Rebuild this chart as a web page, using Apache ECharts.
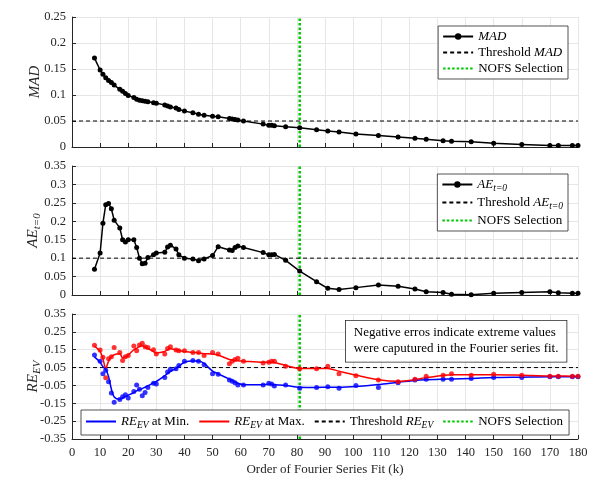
<!DOCTYPE html>
<html>
<head>
<meta charset="utf-8">
<script src="https://cdn.jsdelivr.net/npm/echarts@6/dist/echarts.min.js"></script>
<style>
  html, body { margin: 0; padding: 0; background: #fff; }
  #chart { width: 592px; height: 477px; }
</style>
</head>
<body>
<div id="chart"></div>
<script>
// fit orders (k)
const kValues = [8, 10, 11, 12, 13, 14, 15, 17, 18, 19, 20, 22, 23, 24, 25, 26, 27, 29, 30, 33,
  34, 35, 37, 38, 40, 43, 45, 47, 50, 52, 56, 57, 58, 59, 61, 68, 70, 71, 72, 76,
  81, 87, 91, 95, 101, 109, 116, 122, 126, 132, 135, 142, 150, 160, 170, 173, 178, 180]

const madValues = [0.171, 0.148, 0.140, 0.133, 0.128, 0.124, 0.119, 0.111, 0.107, 0.103, 0.099, 0.095, 0.092, 0.090, 0.089, 0.088, 0.087, 0.085, 0.084, 0.081,
  0.079, 0.077, 0.075, 0.072, 0.069, 0.066, 0.063, 0.061, 0.059, 0.058, 0.055, 0.054, 0.053, 0.052, 0.050, 0.044, 0.042, 0.042, 0.041, 0.039,
  0.037, 0.033, 0.031, 0.029, 0.025, 0.022, 0.019, 0.017, 0.015, 0.012, 0.011, 0.010, 0.007, 0.005, 0.003, 0.003, 0.003, 0.003]

const aeValues = [0.070, 0.114, 0.195, 0.245, 0.248, 0.234, 0.203, 0.182, 0.150, 0.144, 0.150, 0.150, 0.129, 0.100, 0.085, 0.086, 0.102, 0.109, 0.114, 0.116,
  0.130, 0.135, 0.125, 0.109, 0.100, 0.098, 0.093, 0.098, 0.107, 0.131, 0.122, 0.121, 0.129, 0.133, 0.129, 0.115, 0.109, 0.109, 0.110, 0.094,
  0.065, 0.036, 0.018, 0.015, 0.020, 0.027, 0.024, 0.016, 0.009, 0.007, 0.002, 0.001, 0.005, 0.007, 0.009, 0.006, 0.005, 0.005]

// RE_EV raw points
const reMinPoints = [0.120, 0.086, 0.016, 0.035, -0.029, -0.093, -0.144, -0.129, -0.114, -0.102, -0.120, -0.084, -0.047, -0.071, -0.108, -0.090, -0.062, -0.038, -0.042, -0.005,
  0.025, 0.040, 0.044, 0.062, 0.086, 0.089, 0.086, 0.066, 0.016, 0.013, -0.020, -0.026, -0.035, -0.047, -0.047, -0.047, -0.038, -0.042, -0.053, -0.047,
  -0.066, -0.062, -0.057, -0.066, -0.051, -0.062, -0.035, -0.020, -0.016, -0.016, -0.016, -0.011, -0.005, -0.005, -0.002, -0.002, -0.002, -0.002]

const reMaxPoints = [0.175, 0.149, 0.108, -0.007, 0.100, 0.110, 0.162, 0.135, 0.089, 0.111, 0.117, 0.171, 0.144, 0.177, 0.186, 0.166, 0.162, 0.150, 0.126, 0.126,
  0.157, 0.166, 0.149, 0.144, 0.144, 0.135, 0.135, 0.117, 0.135, 0.126, 0.071, 0.086, 0.095, 0.102, 0.086, 0.075, 0.080, 0.086, 0.086, 0.057,
  0.044, 0.044, 0.057, 0.016, 0.004, -0.020, -0.029, -0.016, 0.002, 0.007, 0.016, 0.007, 0.013, 0.007, 0.002, 0.002, 0.002, 0.002]

// RE_EV fitted (smoothed) curves
const reMinCurve = [0.110, 0.080, 0.055, 0.040, 0.000, -0.070, -0.115, -0.128, -0.120, -0.112, -0.105, -0.090, -0.080, -0.073, -0.068, -0.060, -0.052, -0.035, -0.028, 0.005,
  0.018, 0.028, 0.045, 0.058, 0.080, 0.087, 0.087, 0.073, 0.030, 0.015, -0.015, -0.022, -0.030, -0.038, -0.046, -0.046, -0.043, -0.044, -0.046, -0.050,
  -0.060, -0.061, -0.060, -0.060, -0.056, -0.045, -0.032, -0.022, -0.018, -0.015, -0.014, -0.011, -0.006, -0.004, -0.002, -0.002, -0.002, -0.002]

const reMaxCurve = [0.170, 0.140, 0.100, 0.045, 0.085, 0.110, 0.122, 0.127, 0.105, 0.110, 0.120, 0.150, 0.158, 0.168, 0.172, 0.165, 0.157, 0.140, 0.132, 0.140,
  0.150, 0.155, 0.150, 0.146, 0.140, 0.135, 0.132, 0.128, 0.126, 0.120, 0.095, 0.092, 0.090, 0.088, 0.086, 0.080, 0.080, 0.080, 0.078, 0.062,
  0.045, 0.045, 0.045, 0.030, 0.008, -0.018, -0.027, -0.018, -0.006, 0.006, 0.010, 0.010, 0.010, 0.007, 0.003, 0.003, 0.002, 0.002]

const madThreshold = 0.05
const aeThreshold = 0.1
const reThreshold = 0.05
const nofsK = 81
const kRange = [0, 180]

const FONT = 'Liberation Serif'
const AXIS_COLOR = '#262626'

function pairs (ys) {
  return kValues.map((k, i) => [k, ys[i]])
}
function fmt (v) {
  return String(parseFloat(v.toFixed(2)))
}

const rich = {
  i: { fontFamily: FONT, fontSize: 13, fontStyle: 'italic', color: '#000' },
  s: { fontFamily: FONT, fontSize: 9.5, fontStyle: 'italic', color: '#000', verticalAlign: 'bottom', padding: [7, 0, 0, 0] },
  ni: { fontFamily: FONT, fontSize: 15, fontStyle: 'italic', color: AXIS_COLOR },
  ns: { fontFamily: FONT, fontSize: 11, fontStyle: 'italic', color: AXIS_COLOR, verticalAlign: 'bottom', padding: [8, 0, 0, 0] }
}
const labelMap = {
  MAD: '{i|MAD}',
  thrMAD: 'Threshold {i|MAD}',
  AE: '{i|AE}{s|t=0}',
  thrAE: 'Threshold {i|AE}{s|t=0}',
  REmin: '{i|RE}{s|EV} at Min.',
  REmax: '{i|RE}{s|EV} at Max.',
  thrRE: 'Threshold {i|RE}{s|EV}',
  nofs: 'NOFS Selection'
}
// legend entries drawn as a bare line (no marker)
function plain (name) {
  return { name: name, itemStyle: { opacity: 0 } }
}

function xAxis (idx) {
  const bottom = idx === 2
  return {
    type: 'value',
    gridIndex: idx,
    min: kRange[0],
    max: kRange[1],
    interval: 10,
    name: bottom ? 'Order of Fourier Series Fit (k)' : '',
    nameLocation: 'middle',
    nameGap: 24,
    nameTextStyle: { fontFamily: FONT, fontSize: 13, color: AXIS_COLOR },
    axisLine: { onZero: false, lineStyle: { color: AXIS_COLOR } },
    axisTick: { inside: true, length: 4, lineStyle: { color: AXIS_COLOR } },
    axisLabel: { show: bottom, fontFamily: FONT, fontSize: 12.5, color: AXIS_COLOR, margin: 7 },
    splitLine: { show: true, lineStyle: { color: '#e6e6e6' } }
  }
}
function yAxis (idx, min, max, interval, name) {
  return {
    type: 'value',
    gridIndex: idx,
    min: min,
    max: max,
    interval: interval,
    name: name,
    nameLocation: 'middle',
    nameRotate: 90,
    nameGap: 29,
    nameMoveOverlap: false,
    nameTextStyle: { fontFamily: FONT, fontSize: 15, color: AXIS_COLOR, rich: rich },
    axisLine: { show: true, onZero: false, lineStyle: { color: AXIS_COLOR } },
    axisTick: { show: true, inside: true, length: 4, lineStyle: { color: AXIS_COLOR } },
    axisLabel: { fontFamily: FONT, fontSize: 12.5, color: AXIS_COLOR, margin: 6, formatter: fmt },
    splitLine: { show: true, lineStyle: { color: '#e6e6e6' } }
  }
}
function threshold (name, idx, value) {
  return {
    name: name, type: 'line', xAxisIndex: idx, yAxisIndex: idx,
    data: [[kRange[0], value], [kRange[1], value]],
    symbol: 'none',
    lineStyle: { color: '#000', width: 1, type: [4, 3] },
    itemStyle: { color: '#000' },
    z: 3
  }
}
function nofsLine (idx, min, max) {
  return {
    name: 'nofs', type: 'line', xAxisIndex: idx, yAxisIndex: idx,
    data: [[nofsK, min], [nofsK, max]],
    symbol: 'none',
    lineStyle: { color: '#00c800', width: 2.5, type: [2.5, 2] },
    itemStyle: { color: '#00c800' },
    z: 2
  }
}
function legend (data, extra) {
  return Object.assign({
    data: data,
    orient: 'vertical',
    backgroundColor: '#fff',
    borderColor: AXIS_COLOR,
    borderWidth: 0.8,
    borderRadius: 0,
    padding: [4, 5, 4, 4],
    itemWidth: 30,
    itemHeight: 8,
    itemGap: 3,
    align: 'left',
    formatter: name => labelMap[name],
    textStyle: { fontFamily: FONT, fontSize: 13, color: '#000', rich: rich }
  }, extra)
}

const chart = echarts.init(document.getElementById('chart'))
chart.setOption({
  animation: false,
  backgroundColor: '#fff',
  grid: [
    { left: 72, right: 14, top: 17, height: 130 },
    { left: 72, right: 14, top: 166, height: 129 },
    { left: 72, right: 14, top: 314, height: 128 }
  ],
  xAxis: [xAxis(0), xAxis(1), xAxis(2)],
  yAxis: [
    yAxis(0, 0, 0.25, 0.05, '{ni|MAD}'),
    yAxis(1, 0, 0.35, 0.05, '{ni|AE}{ns|t=0}'),
    yAxis(2, -0.35, 0.35, 0.1, '{ni|RE}{ns|EV}')
  ],
  legend: [
    legend(['MAD', plain('thrMAD'), plain('nofs')], { right: 24, top: 26 }),
    legend(['AE', plain('thrAE'), plain('nofs')], { right: 24, top: 174 }),
    legend([plain('REmin'), plain('REmax'), plain('thrRE'), plain('nofs')],
      { orient: 'horizontal', left: 81, top: 410, itemGap: 9, padding: [5, 6, 5, 4] })
  ],
  graphic: [{
    type: 'text',
    left: 345,
    top: 320,
    style: {
      text: 'Negative erros indicate extreme values\nwere caputured in the Fourier series fit.',
      font: '13px "Liberation Serif"',
      fill: '#000',
      align: 'center',
      lineHeight: 16,
      backgroundColor: '#fff',
      borderColor: AXIS_COLOR,
      borderWidth: 0.8,
      padding: [4, 8, 5, 8]
    },
    z: 100
  }],
  series: [
    {
      name: 'MAD', type: 'line', xAxisIndex: 0, yAxisIndex: 0,
      data: pairs(madValues),
      symbol: 'circle', symbolSize: 5,
      lineStyle: { color: '#000', width: 1.5 },
      itemStyle: { color: '#000' },
      z: 4
    },
    threshold('thrMAD', 0, madThreshold),
    nofsLine(0, 0, 0.25),
    {
      name: 'AE', type: 'line', xAxisIndex: 1, yAxisIndex: 1,
      data: pairs(aeValues),
      symbol: 'circle', symbolSize: 5,
      lineStyle: { color: '#000', width: 1.5 },
      itemStyle: { color: '#000' },
      z: 4
    },
    threshold('thrAE', 1, aeThreshold),
    nofsLine(1, 0, 0.35),
    {
      name: 'REmin', type: 'line', xAxisIndex: 2, yAxisIndex: 2,
      data: pairs(reMinCurve),
      smooth: 0.3, symbol: 'none',
      lineStyle: { color: '#0000ff', width: 1.5 },
      itemStyle: { color: '#0000ff' },
      z: 4
    },
    {
      name: 'REmax', type: 'line', xAxisIndex: 2, yAxisIndex: 2,
      data: pairs(reMaxCurve),
      smooth: 0.3, symbol: 'none',
      lineStyle: { color: '#ff0000', width: 1.5 },
      itemStyle: { color: '#ff0000' },
      z: 4
    },
    {
      name: 'minPts', type: 'scatter', xAxisIndex: 2, yAxisIndex: 2,
      data: pairs(reMinPoints), symbolSize: 5,
      itemStyle: { color: '#0000ff' }, z: 5
    },
    {
      name: 'maxPts', type: 'scatter', xAxisIndex: 2, yAxisIndex: 2,
      data: pairs(reMaxPoints), symbolSize: 5,
      itemStyle: { color: '#ff0000' }, z: 5
    },
    threshold('thrRE', 2, reThreshold),
    nofsLine(2, -0.35, 0.35)
  ]
})
</script>
</body>
</html>
